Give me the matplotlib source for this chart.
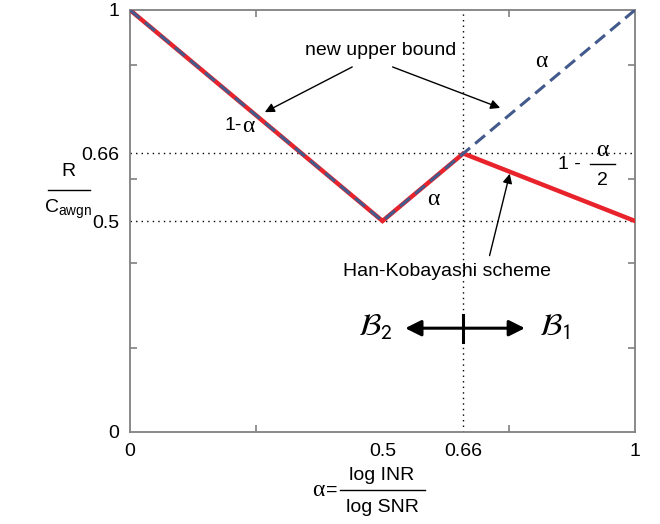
import matplotlib

matplotlib.use("Agg")
import matplotlib.pyplot as plt  # noqa: E402
from matplotlib.lines import Line2D  # noqa: E402

# --- data ------------------------------------------------------------------
HK_ALPHA = [0, 0.5, 0.66, 1]          # Han-Kobayashi scheme corners
HK_RATE = [1, 0.5, 0.66, 0.5]
UB_ALPHA = [0, 0.5, 1]                # new upper bound corners
UB_RATE = [1, 0.5, 1]
REF_LEVELS = [0.5, 0.66]              # dotted horizontal guides
REF_ALPHA = 0.66                      # dotted vertical guide
XTICKS_MINOR = [0.25, 0.75]
YTICKS_MINOR = [0.2, 0.4, 0.6, 0.87]
XTICKS_LABELED = [0, 0.5, 0.66, 1]
XTICK_TEXT = ["0", "0.5", "0.66", "1"]
YTICKS_LABELED = [0, 0.5, 0.66, 1]
YTICK_TEXT = ["0", "0.5", "0.66", "1"]

RED = "#e8232b"
BLUE = "#435a8c"
GRAY = "#808080"
SANS = "Liberation Sans"
SERIF = "Liberation Serif"   # upright Times-like alpha

plt.rcParams.update({
    "font.family": SANS,
    "mathtext.fontset": "custom",
    "mathtext.rm": SANS,
    "mathtext.sf": SANS,
    "mathtext.it": SANS + ":italic",
})

fig = plt.figure(figsize=(6.6, 5.24), dpi=100)
ax = fig.add_axes([130 / 660, 1 - 432 / 524, 505 / 660, 422 / 524])

# dotted guides
for lvl in REF_LEVELS:
    ax.axhline(lvl, color="black", linestyle=(0, (1, 3)), linewidth=1.0, zorder=1)
ax.axvline(REF_ALPHA, color="black", linestyle=(0, (1, 3)), linewidth=1.0, zorder=1)

# curves
ax.plot(HK_ALPHA, HK_RATE, color=RED, linewidth=3.2, solid_joinstyle="miter", zorder=3)
ax.plot(UB_ALPHA, UB_RATE, color=BLUE, linewidth=2.2, linestyle=(0, (4.2, 2.2)), zorder=4)

ax.set_xlim(0, 1)
ax.set_ylim(0, 1)
ax.set_xticks(XTICKS_LABELED)
ax.set_xticklabels(XTICK_TEXT)
ax.set_yticks(YTICKS_LABELED)
ax.set_yticklabels(YTICK_TEXT)
ax.tick_params(which="major", length=0, labelsize=14, pad=8)
ax.set_xticks(XTICKS_MINOR, minor=True)
ax.set_yticks(YTICKS_MINOR, minor=True)
ax.tick_params(which="minor", direction="in", length=5, width=1.2, color=GRAY,
               top=True, right=True)
for sp in ax.spines.values():
    sp.set_color(GRAY)
    sp.set_linewidth(1.3)


def alpha_text(x, y, size=17, **kw):
    ax.text(x, y, "α", fontsize=size, family=SERIF, ha="center", va="center", **kw)


# annotations
arrow = dict(arrowstyle="-|>", color="black", lw=1.0, mutation_scale=14,
             shrinkA=0, shrinkB=0)
ax.text(0.497, 0.905, "new upper bound", fontsize=14, ha="center", va="center")
ax.annotate("", xy=(0.267, 0.758), xytext=(0.440, 0.865), arrowprops=arrow)
ax.annotate("", xy=(0.733, 0.768), xytext=(0.520, 0.865), arrowprops=arrow)

ax.text(0.205, 0.727, "1-", fontsize=14, ha="center", va="center")
alpha_text(0.235, 0.724)
alpha_text(0.60, 0.55)
alpha_text(0.815, 0.878)
ax.text(0.87, 0.635, "1 -", fontsize=14, ha="center", va="center")
alpha_text(0.935, 0.668)
ax.plot([0.91, 0.96], [0.635, 0.635], color="black", linewidth=1.0)
ax.text(0.935, 0.595, "2", fontsize=14, ha="center", va="center")

ax.text(0.627, 0.38, "Han-Kobayashi scheme", fontsize=14, ha="center", va="center")
ax.annotate("", xy=(0.752, 0.612), xytext=(0.712, 0.418), arrowprops=arrow)

# B2 <-> B1 regions
ax.annotate("", xy=(0.545, 0.246), xytext=(0.782, 0.246),
            arrowprops=dict(arrowstyle="<|-|>", color="black", lw=2.2,
                            mutation_scale=24, shrinkA=0, shrinkB=0))
ax.plot([0.66, 0.66], [0.214, 0.278], color="black", linewidth=2.2, zorder=5)
ax.text(0.485, 0.246, r"$\mathcal{B}_\mathsf{2}$", fontsize=22, ha="center",
        va="center", math_fontfamily="stix")
ax.text(0.84, 0.246, r"$\mathcal{B}_\mathsf{1}$", fontsize=22, ha="center",
        va="center", math_fontfamily="stix")

# y label: R / C_awgn
fig.text(68 / 660, 1 - 172 / 524, "R", fontsize=14, ha="center", va="center")
fig.add_artist(Line2D([48 / 660, 90 / 660], [1 - 190 / 524, 1 - 190 / 524],
                      color="black", linewidth=1.0))
fig.text(68 / 660, 1 - 209 / 524, r"C$_{\mathrm{awgn}}$", fontsize=14,
         ha="center", va="center")

# x label: alpha = log INR / log SNR
fig.text(318 / 660, 1 - 491 / 524, "α", fontsize=17, family=SERIF,
         ha="center", va="center")
fig.text(332 / 660, 1 - 490 / 524, "=", fontsize=14, ha="center", va="center")
fig.text(382 / 660, 1 - 475 / 524, "log INR", fontsize=14, ha="center", va="center")
fig.add_artist(Line2D([340 / 660, 425 / 660], [1 - 490 / 524, 1 - 490 / 524],
                      color="black", linewidth=1.0))
fig.text(382 / 660, 1 - 507 / 524, "log SNR", fontsize=14, ha="center", va="center")

fig.savefig("out.png", dpi=100)
